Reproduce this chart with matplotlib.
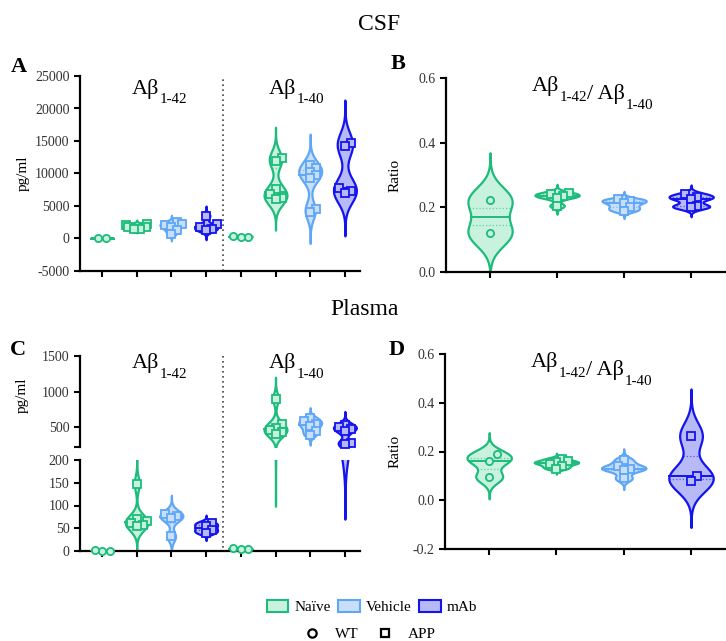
import numpy as np
import matplotlib
matplotlib.use("Agg")
import matplotlib.pyplot as plt
from matplotlib.patches import Patch
from matplotlib.lines import Line2D

plt.rcParams['font.family'] = 'serif'
plt.rcParams['font.serif'] = ['Liberation Serif', 'DejaVu Serif']
plt.rcParams['axes.unicode_minus'] = False

# group colours (edge, fill)
C_NAIVE = ('#1dbb7c', '#c8f2de')
C_VEH = ('#5ea6f6', '#c9def9')
C_MAB = ('#1414ee', '#b7baf7')

# CSF, pg/ml  (WT naive, APP naive, APP vehicle, APP mAb)
csf42_wt = [20, 40]
csf42_naive = [2300, 2000, 1800, 1700, 1500, 1400]
csf42_veh = [2500, 2200, 2000, 1700, 1300, 700]
csf42_mab = [3500, 2200, 1700, 1500, 1300]
csf40_wt = [400, 300, 200]
csf40_naive = [12400, 11900, 7600, 6800, 6300, 6000]
csf40_veh = [11300, 10800, 10300, 9800, 9300, 4600, 4000]
csf40_mab = [14700, 14200, 7800, 7300, 7000]

# CSF ratio
csf_ratio_wt = [0.222, 0.12]
csf_ratio_naive = [0.245, 0.24, 0.235, 0.23, 0.205]
csf_ratio_veh = [0.225, 0.22, 0.212, 0.2, 0.19]
csf_ratio_mab = [0.24, 0.232, 0.225, 0.205, 0.2]

# Plasma, pg/ml
pl42_wt = [0.8, 1.0, 1.2]
pl42_naive = [148, 70, 66, 62, 58, 55]
pl42_veh = [82, 77, 72, 32]
pl42_mab = [62, 55, 47, 40]
pl40_wt = [6, 5, 4]
pl40_naive = [900, 540, 490, 460, 430, 400]
pl40_veh = [630, 580, 550, 510, 450, 390]
pl40_mab = [530, 500, 480, 440, 280, 260]

# Plasma ratio
pl_ratio_wt = [0.188, 0.16, 0.095]
pl_ratio_naive = [0.17, 0.16, 0.155, 0.15, 0.14, 0.13]
pl_ratio_veh = [0.165, 0.14, 0.13, 0.125, 0.09]
pl_ratio_mab = [0.265, 0.098, 0.08]

GROUP_COLS = [C_NAIVE, C_NAIVE, C_VEH, C_MAB]
GROUP_MARKS = ['o', 's', 's', 's']

W, H = 726, 641
fig = plt.figure(figsize=(W / 100, H / 100), dpi=100)


def px_axes(l, t, r, b):
    return fig.add_axes([l / W, 1 - b / H, (r - l) / W, (b - t) / H])


def style(ax, bottom=True):
    for s in ['top', 'right']:
        ax.spines[s].set_visible(False)
    ax.spines['left'].set_linewidth(1.6)
    ax.spines['bottom'].set_linewidth(1.6)
    if not bottom:
        ax.spines['bottom'].set_visible(False)
    ax.tick_params(length=4, width=1.5, labelsize=10, labelcolor='#333333')
    ax.patch.set_alpha(0)


def kde(vals):
    vals = np.asarray(vals, float)
    sd = vals.std(ddof=1)
    bw = 0.65 * sd * len(vals) ** (-0.2)
    grid = np.linspace(vals.min() - 3.6 * bw, vals.max() + 3.6 * bw, 400)
    dens = np.exp(-0.5 * ((grid[:, None] - vals[None, :]) / bw) ** 2).sum(1)
    return grid, 0.33 * dens / dens.max()


def violin(ax, x, vals, colors, marker, show_points=True):
    edge, fill = colors
    grid, half = kde(vals)
    ax.fill_betweenx(grid, x - half, x + half, facecolor=fill, edgecolor=edge,
                     lw=1.6, zorder=2)
    med = np.median(vals)
    h = np.interp(med, grid, half)
    ax.plot([x - h, x + h], [med, med], color=edge, lw=1.4, zorder=3)
    for q in np.percentile(vals, [25, 75]):
        h = np.interp(q, grid, half)
        ax.plot([x - h, x + h], [q, q], color=edge, lw=0.9, ls=':', alpha=0.6, zorder=3)
    if not show_points:
        return
    # simple swarm in pixel space
    sx = ax.transData.transform((1, 0))[0] - ax.transData.transform((0, 0))[0]
    d = 7.5 if marker == 'o' else 6.0
    placed = []
    offs = {}
    for i in np.argsort(vals):
        py = ax.transData.transform((0, vals[i]))[1]
        for k in [0, 1, -1, 2, -2, 3, -3, 4, -4]:
            c = k * d
            if all((c - ox) ** 2 + (py - oy) ** 2 >= d ** 2 for ox, oy in placed):
                break
        placed.append((c, py))
        offs[i] = c
    o = np.array([offs[i] for i in range(len(vals))])
    pys = [ax.transData.transform((0, v))[1] for v in vals]
    if np.ptp(pys) < d:
        o = o - o.mean()
    o = np.clip(o / sx, -0.3, 0.3)
    ms = 5.8 if marker == 's' else 5.2
    ax.plot(x + o, vals, ls='none', marker=marker, ms=ms, mfc=fill, mec=edge,
            mew=1.3, zorder=4, clip_on=False)


def panel_groups(ax, groups, start=0, skip_points=()):
    for j, g in enumerate(groups):
        violin(ax, start + j, g, GROUP_COLS[j], GROUP_MARKS[j], j not in skip_points)


def abeta(ax, x, y, sub, size=16):
    t = ax.text(x, y, 'Aβ', fontsize=size, ha='center', va='baseline')
    a = ax.annotate(sub, xy=(1.0, 0.0), xycoords=t, xytext=(0.5, -3.5),
                    textcoords='offset points', fontsize=size * 0.68, ha='left', va='baseline')
    return t, a


def ratio_title(ax, x, y, size=16):
    t, a = abeta(ax, x, y, '1-42', size)
    t2 = ax.annotate('/ Aβ', xy=(1.0, 0.0), xycoords=a, xytext=(0, 3.5),
                     textcoords='offset points', fontsize=size, ha='left', va='baseline')
    ax.annotate('1-40', xy=(1.0, 0.0), xycoords=t2, xytext=(0.5, -3.5),
                textcoords='offset points', fontsize=size * 0.68, ha='left', va='baseline')


# ---------- A ----------
axA = px_axes(80, 76, 360, 271)
style(axA)
axA.set_xlim(-0.634, 7.435)
axA.set_ylim(-5000, 25000)
axA.set_yticks(np.arange(-5000, 25001, 5000))
axA.set_xticks(range(8))
axA.set_xticklabels([])
panel_groups(axA, [csf42_wt, csf42_naive, csf42_veh, csf42_mab], 0)
panel_groups(axA, [csf40_wt, csf40_naive, csf40_veh, csf40_mab], 4)
axA.axvline(3.5, color='#444444', lw=1.2, ls=(0, (1, 2)))
axA.set_ylabel('pg/ml', fontsize=11, labelpad=4)
abeta(axA, 1.25, 22300, '1-42')
abeta(axA, 5.2, 22300, '1-40')

# ---------- B ----------
axB = px_axes(446, 78, 726, 272)
style(axB)
axB.set_xlim(-0.657, 3.52)
axB.set_ylim(0, 0.6)
axB.set_yticks([0, 0.2, 0.4, 0.6])
axB.set_yticklabels(['0.0', '0.2', '0.4', '0.6'])
axB.set_xticks(range(4))
axB.set_xticklabels([])
panel_groups(axB, [csf_ratio_wt, csf_ratio_naive, csf_ratio_veh, csf_ratio_mab])
axB.set_ylabel('Ratio', fontsize=11, labelpad=12)
ratio_title(axB, 0.82, 0.56)

# ---------- C (broken axis) ----------
axCu = px_axes(80, 356, 360, 447)
axCl = px_axes(80, 460, 360, 551)
style(axCu, bottom=False)
style(axCl)
for ax in (axCu, axCl):
    ax.set_xlim(-0.634, 7.435)
axCu.set_ylim(220, 1500)
axCu.set_yticks([220, 500, 1000, 1500])
axCu.set_yticklabels(['', '500', '1000', '1500'])
axCu.set_xticks([])
axCl.set_ylim(0, 200)
axCl.set_yticks([0, 50, 100, 150, 200])
axCl.set_xticks(range(8))
axCl.set_xticklabels([])
pl42 = [pl42_wt, pl42_naive, pl42_veh, pl42_mab]
pl40 = [pl40_wt, pl40_naive, pl40_veh, pl40_mab]
panel_groups(axCl, pl42, 0)
panel_groups(axCu, pl40, 4, skip_points=(0,))
panel_groups(axCl, pl40, 4, skip_points=(1, 2, 3))
fig.add_artist(Line2D([223 / W, 223 / W], [1 - 356 / H, 1 - 551 / H], color='#444444',
                      lw=1.2, ls=(0, (1, 2))))
fig.text(22 / W, 1 - 395 / H, 'pg/ml', rotation=90, fontsize=11, ha='center', va='center')
abeta(axCu, 1.25, 1330, '1-42')
abeta(axCu, 5.2, 1330, '1-40')

# ---------- D ----------
axD = px_axes(445, 354, 726, 549)
style(axD)
axD.set_xlim(-0.657, 3.52)
axD.set_ylim(-0.2, 0.6)
axD.set_yticks([-0.2, 0, 0.2, 0.4, 0.6])
axD.set_yticklabels(['-0.2', '0.0', '0.2', '0.4', '0.6'])
axD.set_xticks(range(4))
axD.set_xticklabels([])
panel_groups(axD, [pl_ratio_wt, pl_ratio_naive, pl_ratio_veh, pl_ratio_mab])
axD.set_ylabel('Ratio', fontsize=11, labelpad=8)
ratio_title(axD, 0.82, 0.545)

# ---------- titles and letters ----------
fig.text(379 / W, 1 - 25 / H, 'CSF', fontsize=17, ha='center', va='center')
fig.text(365 / W, 1 - 310 / H, 'Plasma', fontsize=17, ha='center', va='center')
for lx, ly, s in [(19, 67, 'A'), (398, 64, 'B'), (18, 350, 'C'), (397, 350, 'D')]:
    fig.text(lx / W, 1 - ly / H, s, fontsize=16, fontweight='bold', ha='center', va='center')

# ---------- legends ----------
h1 = [Patch(facecolor=f, edgecolor=e, lw=1.5) for e, f in (C_NAIVE, C_VEH, C_MAB)]
fig.legend(h1, ['Naïve', 'Vehicle', 'mAb'], loc='center', bbox_to_anchor=(372 / W, 1 - 607 / H),
           ncol=3, frameon=False, fontsize=11, handlelength=1.4, handleheight=0.8,
           handletextpad=0.4, columnspacing=0.5)
h2 = [Line2D([], [], ls='none', marker='o', mfc='white', mec='black', mew=1.6, ms=6),
      Line2D([], [], ls='none', marker='s', mfc='white', mec='black', mew=1.6, ms=6)]
fig.legend(h2, ['WT', 'APP'], loc='center', bbox_to_anchor=(370 / W, 1 - 634 / H),
           ncol=2, frameon=False, fontsize=11, handlelength=1.0, handletextpad=1.0,
           columnspacing=1.2)

fig.savefig('out.png', dpi=100)
